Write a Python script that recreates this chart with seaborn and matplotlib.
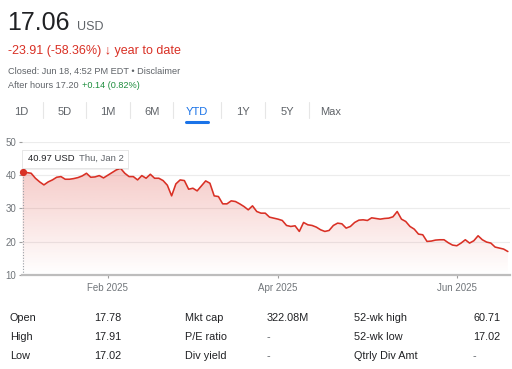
import matplotlib
matplotlib.use('Agg')
import matplotlib.pyplot as plt
from matplotlib.patches import Rectangle
import seaborn as sns
import numpy as np
import pandas as pd

# daily closes, Jan 2 - Jun 18 2025
prices = [
    40.97, 40.8, 40.6, 39.1, 38.0, 37.1, 38.0, 38.6, 39.4, 39.6,
    38.8, 38.8, 39.0, 39.3, 39.8, 40.6, 39.4, 39.5, 39.9, 39.2,
    40.0, 40.8, 41.6, 42.1, 40.6, 39.6, 39.6, 38.6, 39.9, 39.1,
    40.3, 39.1, 39.1, 38.4, 37.0, 33.8, 37.4, 38.6, 38.4, 35.8,
    36.1, 35.3, 36.8, 38.3, 37.6, 33.8, 33.6, 31.4, 31.4, 32.3,
    32.1, 31.4, 30.6, 29.6, 30.8, 29.1, 28.6, 28.6, 27.4, 27.1,
    26.8, 26.4, 24.9, 24.6, 24.8, 23.1, 25.8, 25.1, 24.9, 24.4,
    23.6, 23.1, 23.4, 24.9, 25.6, 25.4, 24.1, 24.6, 25.8, 26.5,
    26.6, 26.4, 27.2, 27.0, 26.8, 27.0, 27.1, 27.5, 29.1, 26.8,
    26.1, 24.6, 23.8, 22.3, 22.1, 20.1, 20.2, 20.5, 20.6, 20.6,
    19.7, 19.0, 18.8, 19.6, 20.6, 19.6, 20.3, 21.8, 20.6, 19.9,
    19.6, 18.4, 18.1, 17.8, 17.06,
]
holidays = ['2025-01-09', '2025-01-20', '2025-02-17', '2025-04-18', '2025-05-26']
tick_months = ['2025-02', '2025-04', '2025-06']
y_ticks = [10, 20, 30, 40, 50]

tabs = ['1D', '5D', '1M', '6M', 'YTD', '1Y', '5Y', 'Max']
tab_x = [20.8, 64.5, 108, 152, 196.5, 243, 287, 331]
sep_x = [42.7, 86, 130, 173.3, 221, 265, 309]

stat_labels = [['Open', 'High', 'Low'],
               ['Mkt cap', 'P/E ratio', 'Div yield'],
               ['52-wk high', '52-wk low', 'Qtrly Div Amt']]
stat_values = [['17.78', '17.91', '17.02'],
               ['322.08M', '-', '-'],
               ['60.71', '17.02', '-']]

RED = '#d93025'
GREEN = '#1e8e3e'
DARK = '#202124'
GREY = '#5f6368'
LIGHT = '#70757a'
BLUE = '#1a73e8'

W, H = 512, 369
days = pd.bdate_range('2025-01-02', '2025-06-18', freq='C', holidays=holidays)
df = pd.DataFrame({'i': np.arange(len(prices)), 'date': days[:len(prices)], 'close': prices})

sns.set_theme(style='white')
plt.rcParams['font.family'] = ['Liberation Sans', 'DejaVu Sans']

fig = plt.figure(figsize=(W / 100, H / 100), dpi=100)
fig.patch.set_facecolor('white')


def fx(x):
    return x / W


def fy(y):
    return 1 - y / H


ax = fig.add_axes([fx(22), fy(275), (510 - 22) / W, (275 - 142) / H])
ax.set_facecolor('none')

# gradient fill under the line
poly = ax.fill_between(df['i'], df['close'], 10, color='none', lw=0)
grad = np.zeros((100, 1, 4))
grad[:, 0, :3] = matplotlib.colors.to_rgb(RED)
grad[:, 0, 3] = np.linspace(0.0, 0.26, 100)
im = ax.imshow(grad, extent=[-1, 116, 10, 42.5], origin='lower', aspect='auto', zorder=1)
im.set_clip_path(poly.get_paths()[0], transform=ax.transData)

sns.lineplot(data=df, x='i', y='close', color=RED, lw=1.15, ax=ax, zorder=3)

# hover marker
ax.plot([0, 0], [10, prices[0]], color='#9aa0a6', lw=0.8, ls=(0, (1, 1.5)), zorder=2)
ax.plot(0, prices[0], 'o', color=RED, ms=4.2, zorder=4, clip_on=False)

ax.set_xlim(-0.15, 114.5)
ax.set_ylim(10, 50)
ax.set_yticks(y_ticks)
for v in y_ticks[1:]:
    ax.axhline(v, color='#ececec', lw=0.8, zorder=0)

tick_pos = [int(df.index[df['date'].dt.strftime('%Y-%m') == m][0]) for m in tick_months]
ax.set_xticks(tick_pos)
ax.set_xticklabels([df['date'][p].strftime('%b %Y') for p in tick_pos])
ax.set_xlabel('')
ax.set_ylabel('')
ax.tick_params(axis='both', labelsize=7, colors='#9e9e9e', labelcolor=LIGHT,
               length=2.5, width=0.8, pad=1.5, direction='out')
ax.tick_params(axis='x', pad=3)
ax.tick_params(left=True, bottom=True)
for s in ['top', 'right', 'left']:
    ax.spines[s].set_visible(False)
ax.spines['bottom'].set_color('#bdbdbd')
ax.spines['bottom'].set_linewidth(1.6)

# tooltip
fig.add_artist(Rectangle((fx(22.5), fy(169.5)), 106.5 / W, 19 / H, transform=fig.transFigure,
                         facecolor='#000000', alpha=0.06, lw=0, zorder=5))
fig.add_artist(Rectangle((fx(21.7), fy(168.3)), 106.6 / W, 18.3 / H, transform=fig.transFigure,
                         facecolor='white', edgecolor='#e3e3e3', lw=0.6, zorder=6))
fig.text(fx(28.3), fy(160.7), '40.97 USD', fontsize=6.8, color=DARK, va='baseline', zorder=7)
fig.text(fx(79), fy(160.7), 'Thu, Jan 2', fontsize=6.8, color=GREY, va='baseline', zorder=7)

# header
fig.text(fx(7), fy(30), '17.06', fontsize=18, color=DARK, va='baseline')
fig.text(fx(77), fy(30), 'USD', fontsize=9, color=GREY, va='baseline')
fig.text(fx(8), fy(54), '-23.91 (-58.36%) \u2193 year to date', fontsize=9, color=RED, va='baseline')
fig.text(fx(8), fy(74), 'Closed: Jun 18, 4:52 PM EDT \u2022 Disclaimer', fontsize=6.6, color=GREY, va='baseline')
fig.text(fx(8), fy(87.5), 'After hours 17.20', fontsize=6.6, color=GREY, va='baseline')
fig.text(fx(81.7), fy(87.5), '+0.14 (0.82%)', fontsize=6.6, color=GREEN, va='baseline')

# range tabs
for t, x in zip(tabs, tab_x):
    fig.text(fx(x), fy(115), t, fontsize=8, ha='center', va='baseline',
             color=BLUE if t == 'YTD' else GREY)
for x in sep_x:
    fig.add_artist(plt.Line2D([fx(x), fx(x)], [fy(102), fy(118)], color='#e6e6e6', lw=0.8))
fig.add_artist(plt.Line2D([fx(186), fx(208)], [fy(121.5), fy(121.5)], color=BLUE, lw=2.2,
                          solid_capstyle='round'))

# stats table
col_label_x = [10, 185, 354]
col_value_x = [94, 267, 473]
row_y = [321, 340.5, 359]
for c in range(3):
    for r in range(3):
        fig.text(fx(col_label_x[c]), fy(row_y[r]), stat_labels[c][r], fontsize=7.8,
                 color=DARK, va='baseline')
        fig.text(fx(col_value_x[c]), fy(row_y[r]), stat_values[c][r], fontsize=7.8,
                 color=DARK if stat_values[c][r] != '-' else GREY, va='baseline')

fig.savefig('out.png', dpi=100)
